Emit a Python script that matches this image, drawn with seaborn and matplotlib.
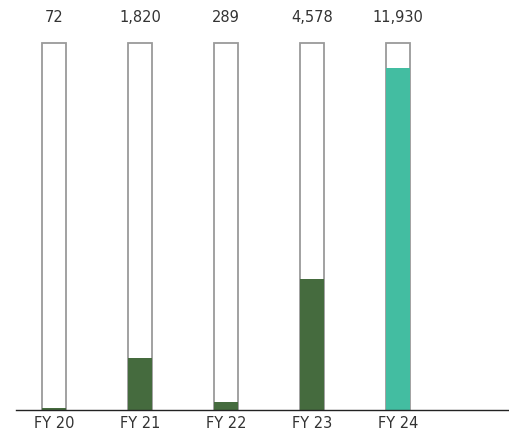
import pandas as pd
import seaborn as sns
import matplotlib.pyplot as plt

years = ['FY 20', 'FY 21', 'FY 22', 'FY 23', 'FY 24']
values = [72, 1820, 289, 4578, 11930]
track_max = 12800
bar_colors = ['#456b3e', '#456b3e', '#456b3e', '#456b3e', '#43bda1']

df = pd.DataFrame({'year': years, 'value': values, 'track': [track_max] * len(years)})

sns.set_style('white')
plt.rcParams['font.family'] = ['DejaVu Sans']

fig = plt.figure(figsize=(5.09, 4.41), dpi=100)
ax = fig.add_axes([16 / 509, 31 / 441, 493 / 509, 410 / 441])

# empty track behind each bar
sns.barplot(data=df, x='year', y='track', color='white', edgecolor='#9a9a9a',
            linewidth=1.3, width=0.28, saturation=1, ax=ax)
# filled part
sns.barplot(data=df, x='year', y='value', hue='year', palette=bar_colors,
            legend=False, width=0.28, linewidth=0, saturation=1, ax=ax)

ax.set_xlim(-0.44, 5.29)
ax.set_ylim(0, track_max * 410 / 367)

label_y = track_max + 25 * track_max / 367
for i, v in enumerate(values):
    ax.text(i, label_y, f'{v:,}', ha='center', va='center', fontsize=10.5, color='#333333')

sns.despine(ax=ax, left=True, top=True, right=True)
ax.spines['bottom'].set_color('#222222')
ax.spines['bottom'].set_linewidth(1)
ax.set_yticks([])
ax.tick_params(axis='x', length=0, pad=4, labelsize=10.5, labelcolor='#333333')
ax.set_xlabel('')
ax.set_ylabel('')

fig.savefig('out.png', dpi=100)
